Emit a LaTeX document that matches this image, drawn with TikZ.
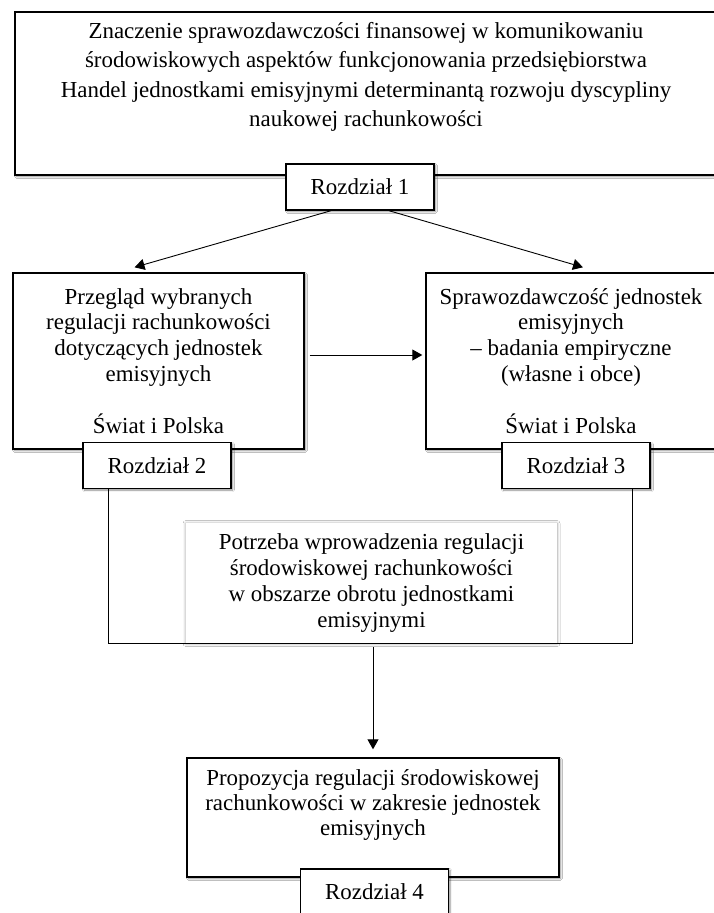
\documentclass[tikz,border=0pt]{standalone}
\usepackage{fontspec}
\setmainfont{Liberation Serif}
\usetikzlibrary{positioning,arrows.meta,shadows,shadows.blur}
\tikzstyle{box}     = [draw=black, line width=1.4bp, fill=white, align=center, inner sep=0pt, blur shadow={shadow xshift=1.5bp, shadow yshift=-1.5bp, shadow blur steps=6, shadow opacity=45}]
\tikzstyle{chapter} = [box, minimum width=148bp, minimum height=46bp]
\tikzstyle{glowbox} = [fill=white, align=center, inner sep=0pt, blur shadow={shadow xshift=0bp, shadow yshift=-0.5bp, shadow blur radius=3bp, shadow opacity=40}]
\tikzstyle{txt}     = [align=center, inner sep=0pt]
\tikzstyle{link}    = [line width=0.9bp, -{Triangle[length=10bp,width=11bp]}]

\begin{document}
\begin{tikzpicture}[x=1bp, y=-1bp, font=\fontsize{23}{26}\selectfont]
        \useasboundingbox (0,0) rectangle (714,913);
        \clip (0,0) rectangle (714,913);
        \fill[white] (0,0) rectangle (714,913);

        % top
        \node[box, minimum width=701bp, minimum height=163bp] (intro) at (365.5,93.5) {};
        \node[txt, font=\fontsize{23}{29.5}\selectfont] (introtxt) at (366,77) {Znaczenie sprawozdawczości finansowej w komunikowaniu\\ środowiskowych aspektów funkcjonowania przedsiębiorstwa\\ Handel jednostkami emisyjnymi determinantą rozwoju dyscypliny\\ naukowej rachunkowości};
        \node[chapter] (ch1) at (360,187) {Rozdział 1};

        % second row
        \node[box, minimum width=291bp, minimum height=176bp] (rules) at (158.5,361) {Przegląd wybranych\\ regulacji rachunkowości\\ dotyczących jednostek\\ emisyjnych\\[26bp] Świat i Polska};
        \node[box, minimum width=290bp, minimum height=176bp] (reports) at (571,361) {Sprawozdawczość jednostek\\ emisyjnych\\ – badania empiryczne\\ (własne i obce)\\[26bp] Świat i Polska};
        \node[chapter] (ch2) at (157,465.5) {Rozdział 2};
        \node[chapter] (ch3) at (576,465.5) {Rozdział 3};

        \draw[link] ([xshift=-29bp]ch1.south) -- ([xshift=-24bp,yshift=5bp]rules.north);
        \draw[link] ([xshift=29bp]ch1.south) -- ([xshift=12bp,yshift=5bp]reports.north);
        \draw[link] ([xshift=5bp,yshift=6bp]rules.east) -- ([xshift=-3bp,yshift=6bp]reports.west);

        % need
        \node[glowbox, minimum width=371bp, minimum height=120bp] (need) at (371.5,583) {Potrzeba wprowadzenia regulacji\\ środowiskowej rachunkowości\\ w obszarze obrotu jednostkami\\ emisyjnymi};
        \coordinate (jl) at (108,643);
        \coordinate (jr) at (632,643);
        \draw[line width=0.9bp] (ch2.south -| jl) -- (jl) -- (jr) -- (ch3.south -| jr);

        % proposal
        \node[box, minimum width=372bp, minimum height=119bp] (proposal) at (373,817.5) {};
        \node[txt, font=\fontsize{23}{25}\selectfont] (proposaltxt) at (373,805) {Propozycja regulacji środowiskowej\\ rachunkowości w zakresie jednostek\\ emisyjnych};
        \node[chapter] (ch4) at (374.5,892) {Rozdział 4};
        \draw[link] ([yshift=-4bp]proposal.north |- need.south) -- ([yshift=8bp]proposal.north);
    \end{tikzpicture}
\end{document}
